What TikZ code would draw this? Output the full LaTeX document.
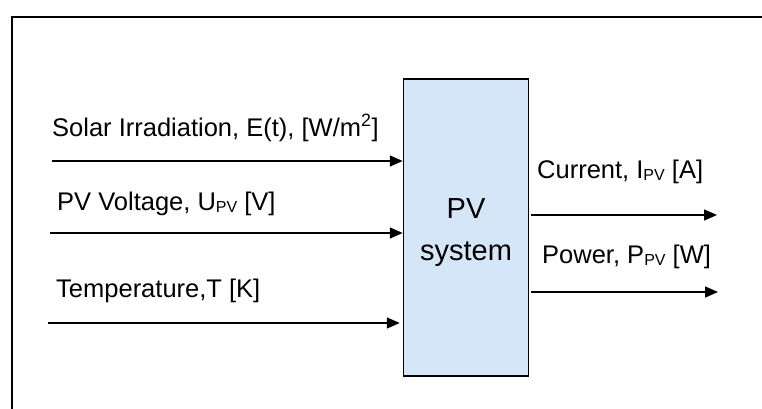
\documentclass[tikz,border=0pt]{standalone}
\usepackage{fontspec}
\setmainfont{Liberation Sans}
\usetikzlibrary{arrows.meta}
\definecolor{boxblue}{HTML}{D5E6F8}
\newcommand{\sbpv}{\raisebox{-2pt}{\fontsize{16}{18}\selectfont PV}}
\begin{document}
\begin{tikzpicture}[x=1pt,y=-1pt,
  lbl/.style={anchor=base west,inner sep=0pt,font=\fontsize{25.5}{28}\selectfont},
  sig/.style={line width=1.5pt,-{Triangle[length=13pt,width=11pt]}},
  frame/.style={line width=1.8pt}]
\useasboundingbox (0,0) rectangle (762,409);
\fill[white] (0,0) rectangle (762,409);
\draw[frame] (12,409) -- (12,17) -- (762,17);
\node[draw,line width=1.5pt,fill=boxblue,minimum width=125pt,minimum height=297pt,inner sep=0pt] (sys) at (466,227.5) {};
\node[anchor=base,inner sep=0pt,font=\fontsize{29}{33}\selectfont] (pv) at (466,218) {PV};
\node[anchor=base,inner sep=0pt,font=\fontsize{29}{33}\selectfont] (sy) at (466,260) {system};
\coordinate (i1) at (52,161);
\coordinate (i2) at (50,233);
\coordinate (i3) at (48,323);
\coordinate (o1) at (717,215);
\coordinate (o2) at (718,292);
\draw[sig] (i1) -- (i1 -| sys.west);
\draw[sig] (i2) -- (i2 -| sys.west);
\draw[sig] (i3) -- ([xshift=-3pt]i3 -| sys.west);
\draw[sig] (o1 -| sys.east) ++(2,0) -- (o1);
\draw[sig] (o2 -| sys.east) ++(2,0) -- (o2);
\node[lbl] (l1) at (52,136) {Solar Irradiation, E(t), [W/m\textsuperscript{2}]};
\node[lbl] (l2) at (57,210) {PV Voltage, U\sbpv\ [V]};
\node[lbl] (l3) at (56,297) {Temperature,T [K]};
\node[lbl] (l4) at (537,178) {Current, I\sbpv\ [A]};
\node[lbl] (l5) at (542,263) {Power, P\sbpv\ [W]};
\end{tikzpicture}
\end{document}
